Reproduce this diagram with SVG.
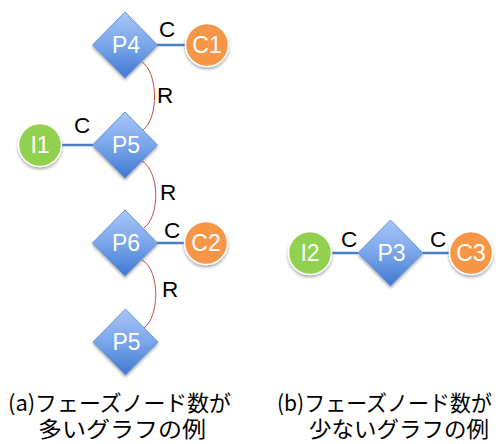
<svg xmlns="http://www.w3.org/2000/svg" width="503" height="444" viewBox="0 0 503 444">
  <style>
    .lbl { font-family: "Liberation Sans", Arial, sans-serif; font-size: 23px; fill: #ffffff; text-anchor: middle; }
    .edge-lbl { font-family: "Liberation Sans", Arial, sans-serif; font-size: 22.5px; fill: #000000; }
    .cap { font-family: "Noto Sans CJK JP", "Noto Sans", sans-serif; font-size: 22px; fill: #000000; }
    .proc { fill: url(#procGrad); stroke: #5a8ad0; stroke-width: 0.8; filter: url(#shadow); }
    .out { fill: #f79646; stroke: #ffffff; stroke-width: 1.5; filter: url(#shadow); }
    .in { fill: #92d050; stroke: #ffffff; stroke-width: 1.5; filter: url(#shadow); }
    .conn { stroke: #4a7ec4; stroke-width: 2.5; fill: none; }
    .rel { stroke: #c0504d; stroke-width: 1; fill: none; }
  </style>
  <defs>
    <linearGradient id="procGrad" x1="0" y1="0" x2="0" y2="1">
      <stop offset="0" stop-color="#a6c6f8"/>
      <stop offset="0.5" stop-color="#7aa6ea"/>
      <stop offset="1" stop-color="#3f78d2"/>
    </linearGradient>
    <filter id="shadow" x="-30%" y="-30%" width="160%" height="160%">
      <feGaussianBlur in="SourceAlpha" stdDeviation="1.5"/>
      <feOffset dx="0" dy="1.5" result="b"/>
      <feComponentTransfer><feFuncA type="linear" slope="0.35"/></feComponentTransfer>
      <feMerge><feMergeNode/><feMergeNode in="SourceGraphic"/></feMerge>
    </filter>
    <path id="diamond" d="M0,-33 L32.5,0 L0,33 L-32.5,0 Z"/>
  </defs>

  <!-- connectors -->
  <g id="connectors">
    <line class="conn" x1="157" y1="45" x2="187" y2="45"/>
    <line class="conn" x1="61" y1="145" x2="93" y2="145"/>
    <line class="conn" x1="157" y1="243" x2="186" y2="243"/>
    <line class="conn" x1="331" y1="253" x2="358" y2="253"/>
    <line class="conn" x1="423" y1="253" x2="450" y2="253"/>
    <path class="rel" d="M142,62 C158,72 159,118 143,130"/>
    <path class="rel" d="M142,161 C160,172 160,216 144,228"/>
    <path class="rel" d="M142,260 C160,270 160,316 144,328"/>
    <text class="edge-lbl" x="159" y="37">C</text>
    <text class="edge-lbl" x="74" y="133">C</text>
    <text class="edge-lbl" x="164" y="238">C</text>
    <text class="edge-lbl" x="341" y="247">C</text>
    <text class="edge-lbl" x="430" y="247">C</text>
    <text class="edge-lbl" x="157" y="103">R</text>
    <text class="edge-lbl" x="160" y="200">R</text>
    <text class="edge-lbl" x="162" y="297">R</text>
  </g>

  <!-- graph (a) -->
  <g id="P4"><use href="#diamond" class="proc" x="125" y="45"/><text class="lbl" x="126" y="53">P4</text></g>
  <g id="C1"><circle class="out" cx="207" cy="45" r="21.5"/><text class="lbl" x="207" y="53">C1</text></g>
  <g id="P5a"><use href="#diamond" class="proc" x="125" y="145"/><text class="lbl" x="126" y="153">P5</text></g>
  <g id="I1"><circle class="in" cx="40" cy="145" r="21.5"/><text class="lbl" x="40" y="153">I1</text></g>
  <g id="P6"><use href="#diamond" class="proc" x="125" y="243"/><text class="lbl" x="126" y="251">P6</text></g>
  <g id="C2"><circle class="out" cx="206" cy="243" r="21.5"/><text class="lbl" x="206" y="251">C2</text></g>
  <g id="P5b"><use href="#diamond" class="proc" x="125.5" y="342"/><text class="lbl" x="126.5" y="350">P5</text></g>

  <!-- graph (b) -->
  <g id="I2"><circle class="in" cx="310" cy="253" r="21.5"/><text class="lbl" x="310" y="261">I2</text></g>
  <g id="P3"><use href="#diamond" class="proc" x="390.5" y="253"/><text class="lbl" x="391.5" y="261">P3</text></g>
  <g id="C3"><circle class="out" cx="471" cy="253" r="21.5"/><text class="lbl" x="471" y="261">C3</text></g>

  <!-- captions -->
  <g id="captions">
    <text class="cap" x="8" y="411" textLength="223" lengthAdjust="spacingAndGlyphs">(a)フェーズノード数が</text>
    <text class="cap" x="38" y="437" textLength="168" lengthAdjust="spacingAndGlyphs">多いグラフの例</text>
    <text class="cap" x="277" y="411" textLength="215" lengthAdjust="spacingAndGlyphs">(b)フェーズノード数が</text>
    <text class="cap" x="309" y="437" textLength="180" lengthAdjust="spacingAndGlyphs">少ないグラフの例</text>
  </g>
</svg>
